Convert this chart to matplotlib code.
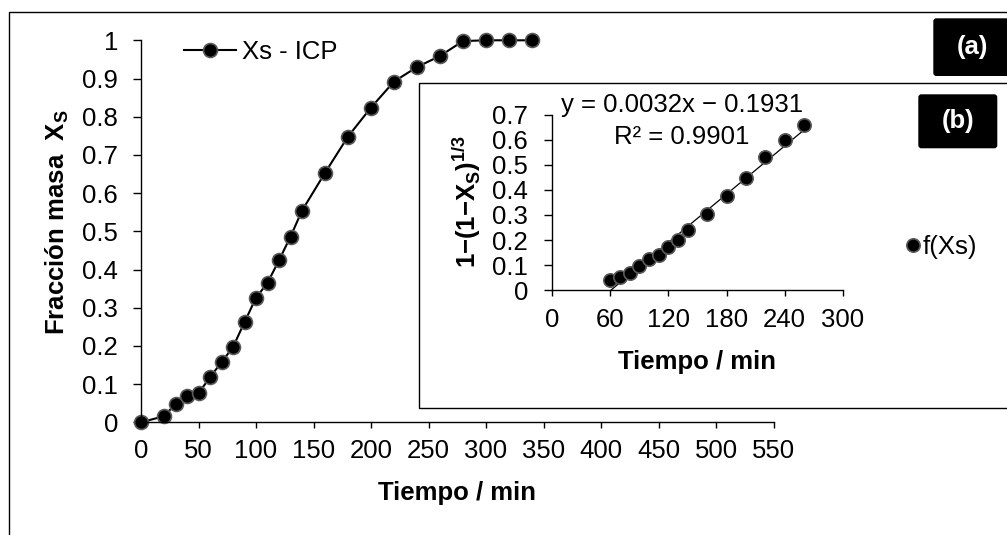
import matplotlib
matplotlib.use("Agg")
import matplotlib.pyplot as plt
from matplotlib.patches import Rectangle, FancyBboxPatch
from matplotlib.ticker import FuncFormatter

# data
main_t = [0, 20, 30, 40, 50, 60, 70, 80, 90, 100, 110, 120, 130, 140,
          160, 180, 200, 220, 240, 260, 280, 300, 320, 340]
main_xs = [0, 0.016, 0.048, 0.070, 0.076, 0.118, 0.157, 0.197, 0.262, 0.326,
           0.365, 0.424, 0.486, 0.554, 0.653, 0.748, 0.824, 0.892, 0.930,
           0.959, 0.998, 1.0, 1.0, 1.0]

inset_t = [60, 70, 80, 90, 100, 110, 120, 130, 140, 160, 180, 200, 220, 240, 260]
inset_f = [0.041, 0.054, 0.070, 0.098, 0.123, 0.141, 0.171, 0.200, 0.240,
           0.304, 0.376, 0.449, 0.530, 0.599, 0.660]

# linear trendline shown on the chart
fit_slope = 0.0032
fit_icpt = -0.1931

main_xticks = list(range(0, 551, 50))
main_yticks = [0, 0.1, 0.2, 0.3, 0.4, 0.5, 0.6, 0.7, 0.8, 0.9, 1]
inset_xticks = [0, 60, 120, 180, 240, 300]
inset_yticks = [0, 0.1, 0.2, 0.3, 0.4, 0.5, 0.6, 0.7]

plt.rcParams["font.family"] = ["Liberation Sans", "DejaVu Sans"]
plt.rcParams["mathtext.fontset"] = "custom"
plt.rcParams["mathtext.rm"] = "Liberation Sans"
plt.rcParams["mathtext.bf"] = "Liberation Sans:bold"
plt.rcParams["font.size"] = 18.5

W, H = 1007, 535
fig = plt.figure(figsize=(W / 100, H / 100), dpi=100)


def fx(x):
    return x / W


def fy(y):
    return 1 - y / H


def axes_rect(x0, x1, ytop, ybot):
    return [fx(x0), fy(ybot), (x1 - x0) / W, (ybot - ytop) / H]


def gfmt(v, pos):
    return "{:g}".format(v)


def style_axes(ax, ypad, xpad):
    for s in ["top", "right"]:
        ax.spines[s].set_visible(False)
    for s in ["left", "bottom"]:
        ax.spines[s].set_linewidth(1.0)
    ax.tick_params(axis="y", direction="out", length=5.5, width=1.0, pad=ypad)
    ax.tick_params(axis="x", direction="out", length=4.5, width=1.0, pad=xpad)
    ax.xaxis.set_major_formatter(FuncFormatter(gfmt))
    ax.yaxis.set_major_formatter(FuncFormatter(gfmt))
    ax.patch.set_alpha(0)


# outer chart border (runs off the right and bottom edges)
fig.patches.append(Rectangle((fx(9), -0.2), 1.2, fy(11.7) + 0.2, transform=fig.transFigure,
                             fill=False, edgecolor="black", lw=1.0, zorder=0))

# main chart
ax = fig.add_axes(axes_rect(141, 773.5, 40.3, 422.3))
ax.set_zorder(1)
ax.plot(main_t, main_xs, color="black", lw=1.5, marker="o", ms=10,
        mfc="black", mec="#5a5a5a", mew=1.2, label="Xs - ICP", clip_on=False)
ax.set_xlim(0, 550)
ax.set_ylim(0, 1)
ax.set_xticks(main_xticks)
ax.set_yticks(main_yticks)
style_axes(ax, 11, 7.5)
ax.set_xlabel("Tiempo / min", fontweight="bold", va="center")
ax.xaxis.set_label_coords(0.5, (422.3 - 493) / 382)
ax.set_ylabel(r"Fracción masa  $\mathbf{X}_\mathbf{S}$", fontweight="bold", va="center")
ax.yaxis.set_label_coords((57 - 141) / 632.5, (422.3 - 222) / 382)
ax.legend(loc="center left", bbox_to_anchor=(fx(184), fy(51.7)),
          bbox_transform=fig.transFigure, frameon=False, borderpad=0,
          borderaxespad=0, handlelength=2.04, handletextpad=0.23)

# inset box
fig.patches.append(Rectangle((fx(419), fy(408.3)), 1.0, (408.3 - 82.7) / H,
                             transform=fig.transFigure, facecolor="white",
                             edgecolor="black", lw=1.0, zorder=2))

ins = fig.add_axes(axes_rect(552.3, 842.7, 114.6, 290.3))
ins.set_zorder(3)
ins.plot([inset_t[0], inset_t[-1]],
         [fit_slope * inset_t[0] + fit_icpt, fit_slope * inset_t[-1] + fit_icpt],
         color="black", lw=0.9, zorder=2)
ins.plot(inset_t, inset_f, ls="none", marker="o", ms=9.6, mfc="black",
         mec="#5a5a5a", mew=1.2, label="f(Xs)", zorder=3, clip_on=False)
ins.set_xlim(0, 300)
ins.set_ylim(0, 0.7)
ins.set_xticks(inset_xticks)
ins.set_yticks(inset_yticks)
style_axes(ins, 12, 8)
ins.set_xlabel("Tiempo / min", fontweight="bold", va="center")
ins.xaxis.set_label_coords(0.5, (290.3 - 361.7) / 175.7)
ins.set_ylabel(r"1−(1−$\mathbf{X}_\mathbf{S}$)$^\mathbf{1/3}$", fontweight="bold", va="center")
ins.yaxis.set_label_coords((467 - 552.3) / 290.4, (290.3 - 202) / 175.7)
ins.legend(loc="center left", bbox_to_anchor=(fx(905), fy(247)),
           bbox_transform=fig.transFigure, frameon=False, borderpad=0,
           borderaxespad=0, handlelength=0.6, handletextpad=0.1)

fig.text(fx(682), fy(105), "y = 0.0032x − 0.1931", ha="center", va="center", zorder=4)
fig.text(fx(682), fy(137), "R² = 0.9901", ha="center", va="center", zorder=4)

# (a) and (b) tags
for x0, x1, y0, y1, tag in [(933.3, 1012, 18.3, 76, "(a)"), (918.3, 997.3, 94.3, 148.3, "(b)")]:
    fig.patches.append(FancyBboxPatch((x0 / 100, (H - y1) / 100), (x1 - x0) / 100, (y1 - y0) / 100,
                                      boxstyle="round,pad=0,rounding_size=0.03",
                                      transform=fig.dpi_scale_trans, facecolor="black",
                                      edgecolor="none", zorder=5))
    fig.text(fx((x0 + min(x1, 1012)) / 2), fy((y0 + y1) / 2), tag, color="white",
             fontweight="bold", ha="center", va="center", zorder=6)

fig.savefig("out.png", dpi=100)
